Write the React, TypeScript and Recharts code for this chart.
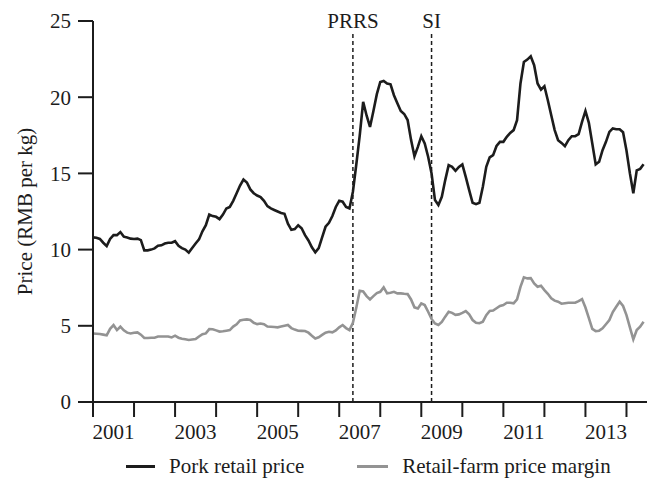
import { LineChart, Line, XAxis, YAxis, ReferenceLine, Legend, Label } from 'recharts'

// monthly, Jan 2001 .. Jun 2014 (RMB per kg)
const retailPrice = [
  10.8, 10.78, 10.7, 10.45, 10.23, 10.7, 10.95, 10.95, 11.15, 10.85, 10.8, 10.72,
  10.7, 10.72, 10.62, 9.95, 9.95, 10.0, 10.08, 10.25, 10.28, 10.4, 10.45, 10.45,
  10.55, 10.25, 10.1, 10.0, 9.8, 10.1, 10.4, 10.67, 11.2, 11.6, 12.3, 12.2,
  12.15, 12.0, 12.3, 12.7, 12.8, 13.2, 13.7, 14.2, 14.6, 14.4, 13.95, 13.7,
  13.55, 13.45, 13.2, 12.85, 12.7, 12.6, 12.5, 12.4, 12.35, 11.7, 11.3, 11.35,
  11.6, 11.4, 10.95, 10.6, 10.15, 9.82, 10.1, 10.8, 11.5, 11.76, 12.2, 12.8,
  13.2, 13.14, 12.8, 12.7, 13.8, 15.6, 17.5, 19.7, 18.8, 18.05, 19.1, 20.2,
  21.0, 21.07, 20.9, 20.85, 20.13, 19.6, 19.1, 18.9, 18.5, 17.2, 16.13, 16.74,
  17.44, 16.96, 16.09, 15.0, 13.25, 12.92, 13.46, 14.56, 15.54, 15.43, 15.17, 15.43,
  15.59, 14.77, 13.9, 13.07, 12.98, 13.07, 14.12, 15.43, 16.05, 16.2, 16.8, 17.07,
  17.07, 17.4, 17.66, 17.84, 18.49, 20.9, 22.31, 22.47, 22.69, 22.1, 20.9, 20.5,
  20.72, 19.8, 18.82, 17.84, 17.18, 17.0, 16.79, 17.18, 17.44, 17.44, 17.57, 18.38,
  19.1, 18.32, 16.96, 15.59, 15.76, 16.52, 17.07, 17.72, 17.95, 17.9, 17.9, 17.7,
  16.5, 15.0, 13.7, 15.2, 15.3, 15.6,
]

const priceMargin = [
  4.5, 4.48, 4.46, 4.42, 4.38, 4.8, 5.05, 4.72, 4.94, 4.7, 4.55, 4.5,
  4.54, 4.57, 4.42, 4.2, 4.2, 4.22, 4.22, 4.3, 4.3, 4.3, 4.3, 4.24,
  4.35, 4.22, 4.15, 4.12, 4.07, 4.1, 4.13, 4.3, 4.45, 4.5, 4.78, 4.77,
  4.7, 4.62, 4.64, 4.68, 4.72, 4.95, 5.1, 5.35, 5.4, 5.42, 5.38, 5.2,
  5.11, 5.15, 5.1, 4.95, 4.94, 4.92, 4.9, 4.95, 5.0, 5.05, 4.85, 4.75,
  4.68, 4.67, 4.66, 4.55, 4.35, 4.17, 4.25, 4.4, 4.55, 4.61, 4.57, 4.7,
  4.9, 5.05, 4.85, 4.72, 5.2, 6.2, 7.3, 7.25, 6.95, 6.73, 6.95, 7.15,
  7.23, 7.52, 7.13, 7.17, 7.23, 7.13, 7.13, 7.1, 7.08, 6.73, 6.21, 6.14,
  6.47, 6.36, 5.92, 5.45, 5.15, 5.05, 5.25, 5.6, 5.92, 5.85, 5.72, 5.75,
  5.85, 5.97, 5.75, 5.38, 5.2, 5.17, 5.27, 5.7, 5.97, 6.0, 6.15, 6.3,
  6.36, 6.51, 6.51, 6.47, 6.73, 7.56, 8.18, 8.11, 8.13, 7.78, 7.56, 7.63,
  7.34, 7.1, 6.8, 6.65, 6.58, 6.45, 6.48, 6.51, 6.51, 6.51, 6.62, 6.75,
  6.2, 5.5, 4.8, 4.65, 4.68, 4.83, 5.1, 5.38, 5.9, 6.25, 6.58, 6.3,
  5.7, 4.9, 4.11, 4.72, 4.94, 5.27,
]

const startYear = 2001
const labelYears = [2001, 2003, 2005, 2007, 2009, 2011, 2013]
const yearStarts = [2001, 2002, 2003, 2004, 2005, 2006, 2007, 2008, 2009, 2010, 2011, 2012, 2013, 2014]
const yTicks = [0, 5, 10, 15, 20, 25]

// event markers: month index, and the top of the dashed line
const events = [
  { name: 'PRRS', month: 76 },
  { name: 'SI', month: 99 },
]
const eventTop = 24.3

const FONT = 'Liberation Serif, DejaVu Serif, serif'
const FS = 21
const INK = '#1c1c1c'
const GREY = '#939393'

const data = retailPrice.map((v, i) => ({ m: i, retail: v, margin: priceMargin[i] }))

const yearTickMonths = yearStarts.map(y => (y - startYear) * 12)
const labelMonths = labelYears.map(y => (y - startYear) * 12 + 6)
const xTicks = [...yearTickMonths, ...labelMonths].sort((a, b) => a - b)

const XTick = (props: any) => {
  const { x, y, payload } = props
  const m = payload.value
  if (m % 12 === 0) {
    return <line x1={x} x2={x} y1={y} y2={y + 15} stroke={INK} strokeWidth={2} />
  }
  return (
    <text x={x} y={y + 37} textAnchor="middle" style={{ fontFamily: FONT, fontSize: FS }} fill={INK}>
      {startYear + Math.floor(m / 12)}
    </text>
  )
}

const YTitle = (props: any) => {
  const vb = props.viewBox
  const cx = 25
  const cy = vb.y + vb.height / 2
  return (
    <text x={cx} y={cy} transform={`rotate(-90, ${cx}, ${cy})`} textAnchor="middle"
      dominantBaseline="central" style={{ fontFamily: FONT, fontSize: FS }} fill={INK}>
      Price (RMB per kg)
    </text>
  )
}

const LegendBox = () => (
  <div style={{ display: 'flex', alignItems: 'center', height: 28, fontFamily: FONT, fontSize: FS, color: INK }}>
    <span style={{ marginLeft: 126, width: 29, borderTop: `3px solid ${INK}` }} />
    <span style={{ marginLeft: 14 }}>Pork retail price</span>
    <span style={{ marginLeft: 53, width: 31, borderTop: `3px solid ${GREY}` }} />
    <span style={{ marginLeft: 14 }}>Retail-farm price margin</span>
  </div>
)

export default function App() {
  return (
    <div style={{ position: 'absolute', left: 0, top: 0, background: '#fff' }}>
      <LineChart width={647} height={481} data={data} margin={{ top: 21, right: 0, bottom: 21, left: 0 }}>
        <XAxis dataKey="m" type="number" domain={[0, 162]} ticks={xTicks} interval={0}
          tick={<XTick />} tickLine={false} tickSize={0} tickMargin={0} height={30}
          axisLine={{ stroke: INK, strokeWidth: 2 }} allowDataOverflow />
        <YAxis domain={[0, 25]} ticks={yTicks} interval={0} width={93} tickSize={15} tickMargin={7}
          tick={{ fill: INK, style: { fontFamily: FONT, fontSize: FS } }}
          tickLine={{ stroke: INK, strokeWidth: 2 }} axisLine={{ stroke: INK, strokeWidth: 2 }}>
          <Label content={<YTitle />} />
        </YAxis>
        <Legend verticalAlign="bottom" content={<LegendBox />}
          wrapperStyle={{ top: 452, left: 0, width: 647, height: 28 }} />
        {events.map(e => (
          <ReferenceLine key={e.name} segment={[{ x: e.month, y: 0 }, { x: e.month, y: eventTop }]}
            stroke={INK} strokeWidth={1.5} strokeDasharray="4 3"
            label={{ value: e.name, position: 'top', offset: 4, fill: INK, style: { fontFamily: FONT, fontSize: FS } }} />
        ))}
        <Line type="linear" dataKey="margin" name="Retail-farm price margin" stroke={GREY}
          strokeWidth={2.6} dot={false} isAnimationActive={false} />
        <Line type="linear" dataKey="retail" name="Pork retail price" stroke={INK}
          strokeWidth={2.6} dot={false} isAnimationActive={false} />
      </LineChart>
    </div>
  )
}
